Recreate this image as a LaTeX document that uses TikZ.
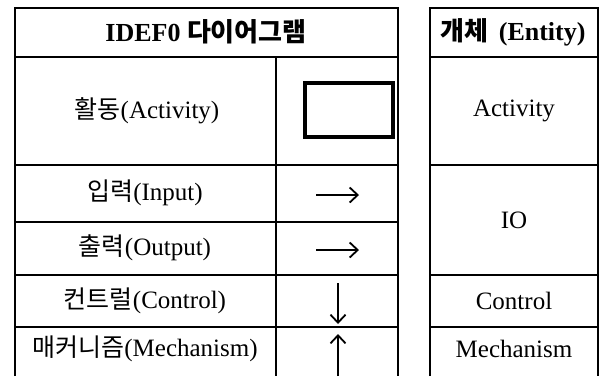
\documentclass[tikz,border=0pt]{standalone}
\usepackage{fontspec}
\setmainfont{Liberation Serif}
\newfontfamily\kr{Noto Sans CJK KR}
\usetikzlibrary{arrows.meta}

\tikzset{
  celltext/.style = {font=\fontsize{25}{28}\selectfont, inner sep=0pt},
  headtext/.style = {font=\fontsize{26}{30}\selectfont\bfseries, inner sep=0pt},
  rule/.style = {line width=1.6pt},
  flow/.style = {line width=1.8pt, -{Straight Barb[length=8pt,width=15pt,line width=1.8pt]}}
}

\begin{document}
\begin{tikzpicture}[x=1pt, y=-1pt]
\useasboundingbox (0,0) rectangle (601,376);

% table lines
\draw[rule] (15,376) -- (15,8) -- (398,8) -- (398,376);   %IDEF0 side
\draw[rule] (430,376) -- (430,8) -- (598,8) -- (598,376); %entity side
\draw[rule] (276,57) -- (276,376);
\foreach \y in {57,165,275,327} {
  \draw[rule] (15,\y) -- (398,\y);
  \draw[rule] (430,\y) -- (598,\y);
}
\draw[rule] (15,222) -- (398,222);

% headings
\node[headtext] (idef) at (206,32) {IDEF0 {\kr\bfseries 다이어그램}};
\node[headtext] (entity) at (513,32) {{\kr\bfseries 개체}\hspace{4pt} (Entity)};

% left column
\node[celltext] (act) at (147,111) {{\kr 활동}(Activity)};
\node[celltext] (inp) at (145,193) {{\kr 입력}(Input)};
\node[celltext] (outp) at (145,248) {{\kr 출력}(Output)};
\node[celltext] (ctrl) at (145,301) {{\kr 컨트럴}(Control)};
\node[celltext] (mech) at (145,349) {{\kr 매커니즘}(Mechanism)};

% symbols
\draw[line width=3.4pt] (305,83) rectangle (393,137);   %activity box
\coordinate (inA) at (316,195);  \coordinate (inB) at (359,195);
\coordinate (outA) at (316,250); \coordinate (outB) at (359,250);
\coordinate (ctA) at (338,283);  \coordinate (ctB) at (338,324);
\coordinate (meA) at (338,376);  \coordinate (meB) at (338,334);
\draw[flow] (inA) -- (inB);
\draw[flow] (outA) -- (outB);
\draw[flow] (ctA) -- (ctB);
\draw[flow] (meA) -- (meB);

% right column
\node[celltext] (eact) at (514,111) {Activity};
\node[celltext] (eio) at (514,220) {IO};
\node[celltext] (ectrl) at (514,301) {Control};
\node[celltext] (emech) at (514,349) {Mechanism};

\end{tikzpicture}
\end{document}
